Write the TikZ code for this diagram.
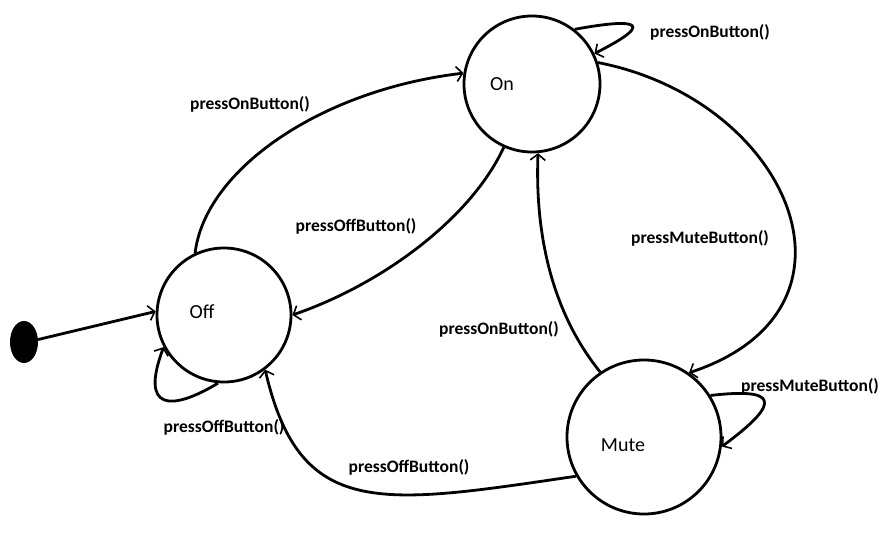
\documentclass[tikz,border=0pt]{standalone}
\usepackage{fontspec}
\setmainfont{Carlito}
\usetikzlibrary{arrows.meta,shapes.geometric}
\tikzset{
  state/.style={circle,draw,line width=2.8pt,inner sep=0pt},
  stxt/.style={font=\fontsize{20}{22}\selectfont},
  lbl/.style={font=\bfseries\fontsize{17.5}{20}\selectfont,inner sep=0pt},
  tr/.style={line width=2.8pt,-{Straight Barb[length=6pt,width=15pt,line width=1.6pt]}},
}
\begin{document}
\begin{tikzpicture}[x=1pt,y=-1pt]
\useasboundingbox[fill=white] (0,0) rectangle (887,539);
% states
\node[state,minimum size=134pt] (off) at (224,315) {};
\node[state,minimum size=136pt] (on) at (532,84) {};
\node[state,minimum size=154pt] (mute) at (644,437) {};
\node[ellipse,fill=black,minimum width=28pt,minimum height=42pt,inner sep=0pt] (init) at (24,342) {};
\node[stxt] (offt) at (202,312) {Off};
\node[stxt] (ont) at (502,84) {On};
\node[stxt] (mutet) at (623,445) {Mute};
% transitions
\draw[tr] (init.10) -- (off.177);
\draw[tr] (off.115) .. controls (205,170) and (320,90) .. (on.171);
\draw[tr] (on.246) .. controls (470,220) and (380,285) .. (off.0);
\draw[tr] (on.52) .. controls (625,20) and (665,18) .. (on.26);
\draw[tr] (on.18) .. controls (790,100) and (880,310) .. (mute.55);
\draw[tr] (mute.124) .. controls (550,310) and (535,230) .. (on.275);
\draw[tr] (mute.32) .. controls (775,388) and (785,400) .. (mute.-7);
\draw[tr] (mute.210) .. controls (380,505) and (300,520) .. (off.307);
\draw[tr] (off.265) .. controls (170,412) and (140,410) .. (off.208);
% labels
\node[lbl] (l1) at (250,104) {pressOnButton()};
\node[lbl] (l2) at (356,226) {pressOffButton()};
\node[lbl] (l3) at (710,32) {pressOnButton()};
\node[lbl] (l4) at (700,238) {pressMuteButton()};
\node[lbl] (l5) at (499,329) {pressOnButton()};
\node[lbl] (l6) at (810,386) {pressMuteButton()};
\node[lbl] (l7) at (224,427) {pressOffButton()};
\node[lbl] (l8) at (409,467) {pressOffButton()};
\end{tikzpicture}
\end{document}
